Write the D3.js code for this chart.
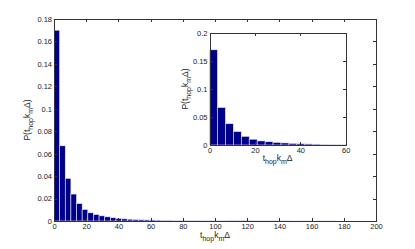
<!DOCTYPE html>
<html>
<head>
<meta charset="utf-8">
<script src="https://cdn.jsdelivr.net/npm/d3@7"></script>
<style>
	body { margin: 0; background: #fff; }
	svg { display: block; font-family: 'Liberation Sans', Arial, sans-serif; }
	.axis path, .axis line { stroke: #333; shape-rendering: crispEdges; }
	.axis text { fill: #222; font-size: 7.5px; }
	.label { fill: #222; font-size: 8.5px; }
</style>
</head>
<body>
<svg></svg>
<script>
// bin width of the histogram (t_hop k_m Δ units)
const binWidth = 3.5

// probability of each bin
const probs = [
	0.170, 0.067, 0.038, 0.024, 0.0155, 0.0103, 0.0073, 0.0058, 0.0046, 0.0037,
	0.0029, 0.0023, 0.0019, 0.0016, 0.0013, 0.0011, 0.0010, 0.0009, 0.0008, 0.0007,
	0.0007, 0.0006, 0.0006, 0.0005, 0.0005, 0.0004, 0.0004, 0.0004, 0.0003, 0.0003,
	0.0003, 0.0002, 0.0002, 0.0002, 0.0002, 0.0001, 0.0001, 0.0001, 0.0001, 0.0001,
	0.0001, 0.0001, 0.00005, 0.00005, 0.00005, 0.00005, 0.00005, 0.00005, 0.00005, 0.00005,
]

// tick labels
const mainXTicks = [0, 20, 40, 60, 80, 100, 120, 140, 160, 180, 200]
const mainYTicks = [0, 0.02, 0.04, 0.06, 0.08, 0.1, 0.12, 0.14, 0.16, 0.18]
const insetXTicks = [0, 20, 40, 60]
const insetYTicks = [0, 0.05, 0.1, 0.15, 0.2]

const rows = probs.map((p, i) => ({ x0: i * binWidth, x1: (i + 1) * binWidth, p }))

const outerWidth = 415
const outerHeight = 249

const svg = d3.select('svg')
	.attr('width', outerWidth)
	.attr('height', outerHeight)

const fmt = d => d === 0 ? '0' : String(d)

// label with subscripts: t_hop k_m Δ
const addVarLabel = (text, withP) => {
	if (withP) text.append('tspan').text('P(t')
	else text.append('tspan').text('t')
	text.append('tspan').attr('dy', 3).attr('font-size', '7px').text('hop')
	text.append('tspan').attr('dy', -3).text('k')
	text.append('tspan').attr('dy', 3).attr('font-size', '7px').text('m')
	text.append('tspan').attr('dy', -3).text(withP ? 'Δ)' : 'Δ')
}

const drawPanel = ({ left, top, right, bottom, xDomain, yDomain, xTicks, yTicks, xLabelY, yLabelX }) => {

	const width = right - left
	const height = bottom - top

	const g = svg.append('g')
		.attr('transform', `translate(${left}, ${top})`)

	const x = d3.scaleLinear().domain(xDomain).range([0, width])
	const y = d3.scaleLinear().domain(yDomain).range([height, 0])

	g.append('rect')
		.attr('width', width)
		.attr('height', height)
		.attr('fill', '#fff')

	const clipId = 'clip' + left
	g.append('clipPath')
		.attr('id', clipId)
	.append('rect')
		.attr('width', width)
		.attr('height', height)

	g.append('g')
		.attr('clip-path', `url(#${clipId})`)
		.selectAll('rect')
		.data(rows.filter(d => d.x0 < xDomain[1]))
		.join('rect')
		.attr('x', d => x(d.x0))
		.attr('width', d => x(d.x1) - x(d.x0))
		.attr('y', d => y(d.p))
		.attr('height', d => y(0) - y(d.p))
		.attr('fill', '#00008c')
		.attr('stroke', '#e8e8f4')
		.attr('stroke-width', 0.6)

	// bottom & left axes with labels, ticks pointing inward
	g.append('g')
		.attr('class', 'axis axis--x')
		.attr('transform', `translate(0, ${height})`)
		.call(d3.axisBottom(x)
			.tickValues(xTicks)
			.tickFormat(fmt)
			.tickSizeInner(-3)
			.tickSizeOuter(0)
			.tickPadding(3)
		)

	g.append('g')
		.attr('class', 'axis axis--y')
		.call(d3.axisLeft(y)
			.tickValues(yTicks)
			.tickFormat(fmt)
			.tickSizeInner(-3)
			.tickSizeOuter(0)
			.tickPadding(2)
		)

	// top & right axes, ticks only
	g.append('g')
		.attr('class', 'axis')
		.call(d3.axisTop(x)
			.tickValues(xTicks)
			.tickFormat('')
			.tickSizeInner(-3)
			.tickSizeOuter(0)
		)

	g.append('g')
		.attr('class', 'axis')
		.attr('transform', `translate(${width}, 0)`)
		.call(d3.axisRight(y)
			.tickValues(yTicks)
			.tickFormat('')
			.tickSizeInner(-3)
			.tickSizeOuter(0)
		)

	const xl = g.append('text')
		.attr('class', 'label')
		.attr('x', width / 2)
		.attr('y', height + xLabelY)
		.attr('text-anchor', 'middle')
	addVarLabel(xl, false)

	const yl = g.append('text')
		.attr('class', 'label')
		.attr('transform', `translate(${yLabelX}, ${height / 2}) rotate(-90)`)
		.attr('text-anchor', 'middle')
	addVarLabel(yl, true)

}

// main histogram
drawPanel({
	left: 54, top: 19, right: 376, bottom: 221,
	xDomain: [0, 200], yDomain: [0, 0.18],
	xTicks: mainXTicks, yTicks: mainYTicks,
	xLabelY: 17, yLabelX: -24,
})

// inset, zoom on the first 60 units
drawPanel({
	left: 209.5, top: 33, right: 345.7, bottom: 145,
	xDomain: [0, 60], yDomain: [0, 0.2],
	xTicks: insetXTicks, yTicks: insetYTicks,
	xLabelY: 16, yLabelX: -22,
})
</script>
</body>
</html>
